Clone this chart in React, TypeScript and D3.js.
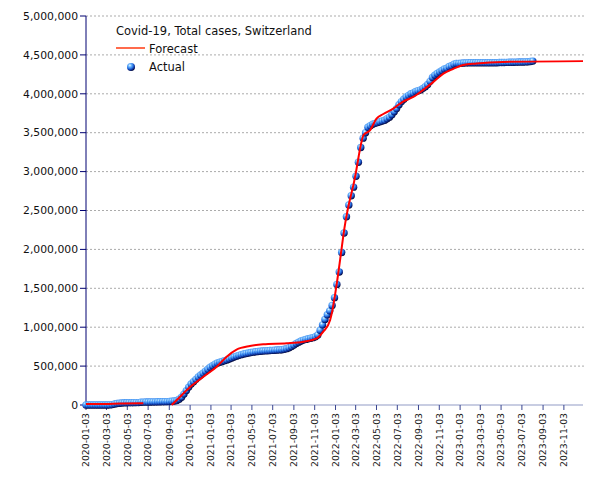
import * as d3 from 'd3'

const W = 605
const H = 480
const margin = { top: 16, right: 22, bottom: 75, left: 86 }

// weekly "Actual" totals, in thousands, starting on actualStart
const actualStart = '2020-01-03'
const actualStepDays = 7
const actualThousands = [
  0, 0, 0, 0, 0, 0, 0, 0, 0, 0,
  1, 5, 12, 19, 23, 26, 28, 29, 30, 30, 30, 31, 31,
  36, 37, 38, 38, 39, 40, 40, 41, 42, 43, 43, 44,
  45, 48, 52, 58, 75, 100, 140, 185, 230, 270, 300, 330, 360, 385, 410, 435, 460, 485,
  505, 525, 540, 550, 560, 570, 580, 592, 605, 617, 628, 638, 647, 655, 662, 668, 674,
  679, 684, 688, 691, 694, 696, 698, 700, 702, 704, 706, 708, 711,
  716, 724, 736, 752, 770, 790, 808, 822, 834, 843, 851, 858, 866, 878, 900,
  960, 1030, 1100, 1160, 1210, 1280, 1380, 1550, 1710, 1960, 2210, 2420, 2570, 2690,
  2800, 2940, 3120, 3310, 3430, 3500,
  3570, 3590, 3610, 3620, 3630, 3640, 3650, 3660, 3680, 3700, 3730, 3770, 3810, 3860,
  3900, 3930, 3960, 3980, 4000, 4010, 4030, 4040, 4050, 4070, 4090, 4120, 4160, 4210,
  4240, 4260, 4280, 4300, 4320, 4330, 4350, 4360, 4380, 4390,
  4390, 4392, 4395, 4397, 4400, 4400, 4400, 4400, 4400, 4400, 4400, 4400, 4400, 4400,
  4400, 4400, 4400, 4402, 4402, 4403, 4404, 4405, 4405, 4406, 4407, 4408, 4408, 4409,
  4410, 4412, 4415, 4420,
]

// forecast curve, two separate pieces [date, thousands]
const forecastWave1: [string, number][] = [
  ['2020-01-03', 12], ['2020-03-01', 14], ['2020-04-15', 20], ['2020-06-19', 22],
]
const forecastWave2: [string, number][] = [
  ['2020-09-10', 0], ['2020-09-25', 64], ['2020-11-03', 231], ['2020-12-12', 364],
  ['2021-01-20', 492], ['2021-02-18', 621], ['2021-03-19', 712], ['2021-04-27', 758],
  ['2021-06-05', 780], ['2021-08-13', 793], ['2021-10-01', 814], ['2021-11-09', 857],
  ['2021-11-28', 942], ['2021-12-18', 1090], ['2021-12-25', 1220], ['2022-01-01', 1400],
  ['2022-01-08', 1600], ['2022-01-15', 1820], ['2022-01-22', 2050], ['2022-01-29', 2270],
  ['2022-02-05', 2450], ['2022-02-12', 2600], ['2022-02-19', 2730], ['2022-02-26', 2860],
  ['2022-03-05', 3020], ['2022-03-12', 3200], ['2022-03-19', 3360], ['2022-03-26', 3470],
  ['2022-04-14', 3530], ['2022-05-03', 3680], ['2022-05-23', 3740], ['2022-06-21', 3810],
  ['2022-07-20', 3900], ['2022-08-19', 3960], ['2022-09-17', 4050], ['2022-10-16', 4150],
  ['2022-11-15', 4260], ['2022-12-14', 4320], ['2023-01-12', 4370], ['2023-02-20', 4390],
  ['2023-05-09', 4410], ['2023-12-29', 4420],
]

const xDomain = ['2020-01-03', '2023-12-29']
const xTickLabels = [
  '2020-01-03', '2020-03-03', '2020-05-03', '2020-07-03', '2020-09-03', '2020-11-03',
  '2021-01-03', '2021-03-03', '2021-05-03', '2021-07-03', '2021-09-03', '2021-11-03',
  '2022-01-03', '2022-03-03', '2022-05-03', '2022-07-03', '2022-09-03', '2022-11-03',
  '2023-01-03', '2023-03-03', '2023-05-03', '2023-07-03', '2023-09-03', '2023-11-03',
]
const yTicks = [0, 500000, 1000000, 1500000, 2000000, 2500000, 3000000, 3500000, 4000000, 4500000, 5000000]

const title = 'Covid-19, Total cases, Switzerland'
const font = "'DejaVu Sans', sans-serif"

const parse = d3.utcParse('%Y-%m-%d')

export default function App() {
  const x = d3.scaleUtc()
    .domain(xDomain.map(d => parse(d)!))
    .range([margin.left, W - margin.right])
  const y = d3.scaleLinear().domain([0, 5000000]).range([H - margin.bottom, margin.top])
  const fmt = d3.format(',')

  const start = parse(actualStart)!
  const actual = actualThousands.map((v, i) => ({
    date: d3.utcDay.offset(start, i * actualStepDays),
    value: v * 1000,
  }))

  const line = d3.line<[string, number]>()
    .x(d => x(parse(d[0])!))
    .y(d => y(d[1] * 1000))
    .curve(d3.curveMonotoneX)

  const x0 = margin.left
  const x1 = W - margin.right
  const y0 = H - margin.bottom

  return (
    <>
      <style>{'body{margin:0}'}</style>
      <svg width={W} height={H} style={{ display: 'block', fontFamily: font }}>
        <defs>
          <radialGradient id="ball" cx="36%" cy="30%" r="72%">
            <stop offset="0%" stopColor="#f2fbff" />
            <stop offset="22%" stopColor="#7cc2ff" />
            <stop offset="55%" stopColor="#2b78e8" />
            <stop offset="82%" stopColor="#0b2c92" />
            <stop offset="100%" stopColor="#000638" />
          </radialGradient>
        </defs>
        <rect width={W} height={H} fill="#fff" />

        {/* gridlines */}
        {yTicks.filter(t => t > 0).map(t => (
          <line key={t} x1={x0} x2={x1 + 2} y1={y(t)} y2={y(t)}
            stroke="#ababab" strokeDasharray="2,2" strokeWidth={1} />
        ))}

        {/* x axis */}
        <line x1={x0} x2={x1} y1={y0} y2={y0} stroke="#b6bcd8" strokeWidth={1.5} />
        {xTickLabels.map(t => {
          const px = x(parse(t)!)
          return (
            <g key={t}>
              <line x1={px} x2={px} y1={y0} y2={y0 + 5} stroke="#3a4590" />
              <text transform={`translate(${px},${y0 + 8}) rotate(-90)`} textAnchor="end"
                dy="0.35em" fontSize={9.3} fill="#222">{t}</text>
            </g>
          )
        })}

        {/* y axis */}
        <line x1={x0} x2={x0} y1={margin.top} y2={y0} stroke="#000070" strokeWidth={1} />
        {yTicks.map(t => (
          <g key={t}>
            <line x1={x0 - 6} x2={x0} y1={y(t)} y2={y(t)} stroke="#000070" />
            <text x={x0 - 8} y={y(t)} dy="0.35em" textAnchor="end" fontSize={10.8} fill="#111">
              {fmt(t)}
            </text>
          </g>
        ))}

        {/* actual points */}
        {actual.map((d, i) => (
          <circle key={i} cx={x(d.date)} cy={y(d.value)} r={3.7} fill="url(#ball)" />
        ))}

        {/* forecast */}
        <path d={line(forecastWave1) ?? ''} fill="none" stroke="#ff0000" strokeWidth={2} />
        <path d={line(forecastWave2) ?? ''} fill="none" stroke="#ff0000" strokeWidth={2} />

        {/* legend */}
        <text x={116} y={35} fontSize={11.5} fill="#111">{title}</text>
        <line x1={116} x2={145} y1={48} y2={48} stroke="#ff3a10" strokeWidth={1.5} />
        <text x={149} y={53} fontSize={11.5} fill="#111">Forecast</text>
        <circle cx={131} cy={67} r={4} fill="url(#ball)" />
        <text x={149} y={71} fontSize={11.5} fill="#111">Actual</text>
      </svg>
    </>
  )
}
